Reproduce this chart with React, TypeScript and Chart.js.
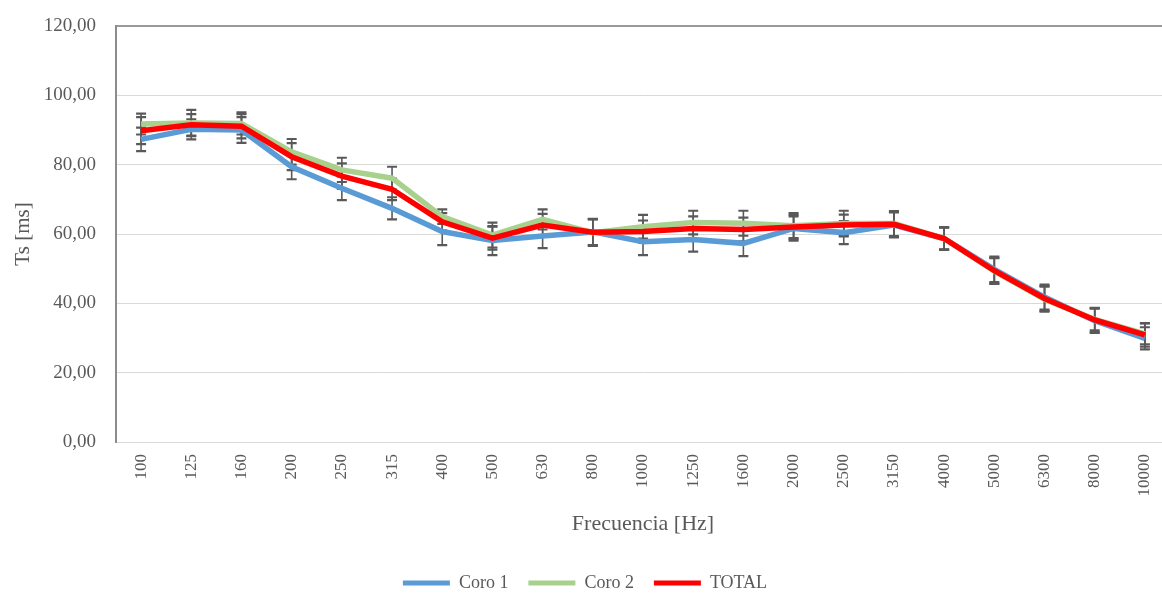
import { useEffect, useRef } from 'react';
import { Chart, registerables } from 'chart.js';

Chart.register(...registerables);

// Third-octave band centre frequencies
const frequencies = ['100', '125', '160', '200', '250', '315', '400', '500', '630', '800', '1000', '1250', '1600', '2000', '2500', '3150', '4000', '5000', '6300', '8000', '10000'];

// Ts [ms] per band
const coro1 = [87.3, 90.2, 90.0, 79.4, 73.2, 67.4, 60.7, 58.1, 59.4, 60.6, 57.8, 58.4, 57.3, 61.6, 60.4, 62.6, 58.7, 49.8, 41.8, 35.0, 29.9];
const coro2 = [91.7, 92.0, 91.9, 83.7, 78.5, 76.1, 65.0, 59.7, 64.2, 60.4, 62.1, 63.3, 63.1, 62.4, 63.0, 63.0, 58.7, 49.3, 41.2, 35.4, 31.2];
const total = [89.8, 91.5, 91.1, 82.3, 76.7, 72.9, 63.5, 58.8, 62.6, 60.5, 60.7, 61.6, 61.3, 62.0, 62.6, 62.8, 58.7, 49.4, 41.4, 35.2, 30.9];

// Standard deviation per band (error bars)
const coro1Err = [3.4, 2.9, 3.7, 3.6, 3.4, 3.2, 3.9, 4.2, 3.5, 3.8, 3.9, 3.5, 3.7, 3.5, 3.3, 3.6, 3.2, 3.7, 3.6, 3.5, 3.2];
const coro2Err = [3.0, 3.8, 3.2, 3.7, 3.5, 3.3, 2.1, 3.6, 2.9, 3.8, 3.4, 3.4, 3.6, 3.6, 3.7, 3.6, 3.2, 3.7, 3.6, 3.2, 3.0];
const totalErr = [3.9, 3.1, 3.5, 3.9, 3.7, 3.1, 2.5, 3.3, 3.2, 3.8, 3.2, 3.5, 3.4, 3.5, 3.0, 3.6, 3.2, 3.7, 3.6, 3.5, 3.4];

const yTicks = [0, 20, 40, 60, 80, 100, 120];

const errorSets = [coro1Err, coro2Err, totalErr];

const SERIF = "'Liberation Serif', 'Times New Roman', serif";
const TEXT = '#595959';

const errorBars = {
  id: 'errorBars',
  beforeDatasetsDraw(chart: any) {
    const { ctx, scales } = chart;
    const y = scales.y;
    ctx.save();
    ctx.strokeStyle = '#595959';
    chart.data.datasets.forEach((ds: any, i: number) => {
      const meta = chart.getDatasetMeta(i);
      if (meta.hidden) return;
      const errs = errorSets[i];
      meta.data.forEach((pt: any, j: number) => {
        const v = ds.data[j];
        const e = errs[j];
        const x = pt.x;
        const top = y.getPixelForValue(v + e);
        const bot = y.getPixelForValue(v - e);
        ctx.lineWidth = 1.6;
        ctx.beginPath();
        ctx.moveTo(x, top);
        ctx.lineTo(x, bot);
        ctx.stroke();
        ctx.lineWidth = 2.2;
        ctx.beginPath();
        ctx.moveTo(x - 5, top);
        ctx.lineTo(x + 5, top);
        ctx.moveTo(x - 5, bot);
        ctx.lineTo(x + 5, bot);
        ctx.stroke();
      });
    });
    ctx.restore();
  },
};

export default function App() {
  const ref = useRef<HTMLCanvasElement>(null);

  useEffect(() => {
    const legendHeight = 18 + 20 + 10;
    const chart = new Chart(ref.current!, {
      type: 'line',
      data: {
        labels: frequencies,
        datasets: [
          { label: 'Coro 1', data: coro1, borderColor: '#5B9BD5', backgroundColor: '#5B9BD5', borderWidth: 5.5, pointRadius: 0, order: 3 },
          { label: 'Coro 2', data: coro2, borderColor: '#A9D18E', backgroundColor: '#A9D18E', borderWidth: 5.5, pointRadius: 0, order: 2 },
          { label: 'TOTAL', data: total, borderColor: '#FF0000', backgroundColor: '#FF0000', borderWidth: 5.5, pointRadius: 0, order: 1 },
        ],
      },
      options: {
        responsive: false,
        animation: false,
        layout: { padding: { left: 0, right: 10, top: 26, bottom: 0 } },
        plugins: {
          tooltip: { enabled: false },
          legend: {
            position: 'bottom',
            labels: {
              font: { family: SERIF, size: 18 },
              color: TEXT,
              boxWidth: 47,
              boxHeight: 5,
              padding: 20,
              sort: (a: any, b: any) => a.datasetIndex - b.datasetIndex,
              generateLabels: (c: any) =>
                Chart.defaults.plugins.legend.labels.generateLabels(c).map((l: any) => ({ ...l, lineWidth: 0 })),
            },
          },
        },
        scales: {
          x: {
            offset: true,
            grid: { display: false },
            border: { display: true, color: '#d9d9d9', width: 1 },
            ticks: {
              autoSkip: false,
              minRotation: 90,
              maxRotation: 90,
              padding: 4,
              color: TEXT,
              font: { family: SERIF, size: 17 },
            },
            title: {
              display: true,
              text: 'Frecuencia [Hz]',
              color: TEXT,
              font: { family: SERIF, size: 22 },
              padding: { top: 0, bottom: 17 },
            },
            afterFit: (scale: any) => {
              scale.height = 602 - 442 - legendHeight;
            },
          },
          y: {
            min: 0,
            max: 120,
            afterBuildTicks: (scale: any) => {
              scale.ticks = yTicks.map((v) => ({ value: v }));
            },
            grid: {
              drawTicks: true,
              tickLength: 12,
              tickColor: 'rgba(0,0,0,0)',
              color: (c: any) => (c.tick && c.tick.value === 120 ? '#9a9a9a' : '#d9d9d9'),
              lineWidth: (c: any) => (c.tick && c.tick.value === 120 ? 2 : 1),
            },
            border: { display: true, color: '#8c8c8c', width: 2 },
            ticks: {
              padding: 8,
              color: TEXT,
              font: { family: SERIF, size: 19 },
              callback: (v: any) => Number(v).toFixed(2).replace('.', ','),
            },
            title: {
              display: true,
              text: 'Ts [ms]',
              color: TEXT,
              font: { family: SERIF, size: 21 },
              padding: { top: 11, bottom: 0 },
            },
            afterFit: (scale: any) => {
              scale.width = 116;
            },
          },
        },
      },
      plugins: [errorBars],
    });
    return () => chart.destroy();
  }, []);

  return (
    <div style={{ position: 'fixed', left: 0, top: 0, width: 1162, height: 595, overflow: 'hidden', background: '#ffffff' }}>
      <canvas ref={ref} width={1180} height={602} style={{ display: 'block' }} />
    </div>
  );
}
